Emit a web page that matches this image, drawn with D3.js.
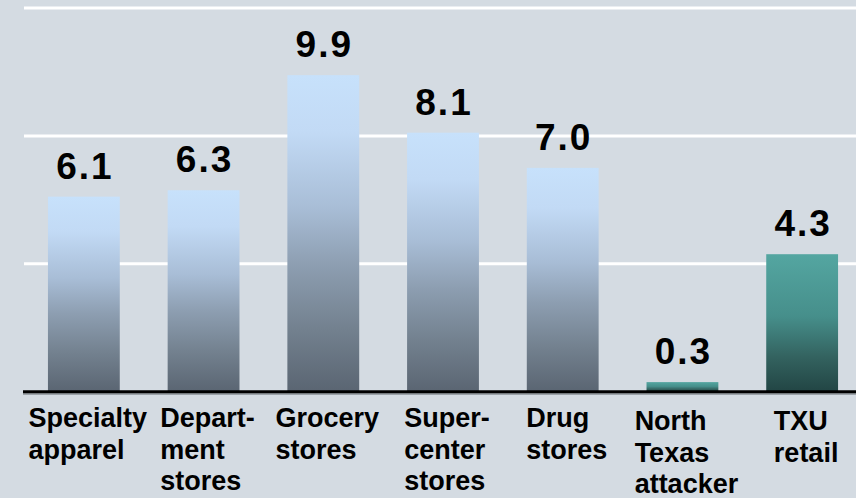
<!DOCTYPE html>
<html>
<head>
<meta charset="utf-8">
<script src="https://cdn.jsdelivr.net/npm/d3@7"></script>
<style>
  html, body { margin: 0; padding: 0; background: #d4dbe2; }
  svg { display: block; }
  text { font-family: "Liberation Sans", Arial, Helvetica, sans-serif; font-weight: bold; fill: #000; }
</style>
</head>
<body>
<svg id="chart" width="856" height="498"></svg>
<script>
// Category labels (line breaks as drawn under each bar)
const categories = [
  "Specialty\napparel",
  "Depart-\nment\nstores",
  "Grocery\nstores",
  "Super-\ncenter\nstores",
  "Drug\nstores",
  "North\nTexas\nattacker",
  "TXU\nretail"
];
// Value for each category
const values = [6.1, 6.3, 9.9, 8.1, 7.0, 0.3, 4.3];
// Which colour group each bar belongs to
const groups = ["benchmark", "benchmark", "benchmark", "benchmark", "benchmark", "txu", "txu"];
// Gridline values
const gridTicks = [4, 8, 12];

const W = 856, H = 498;
const svg = d3.select("#chart");

const x = d3.scaleBand()
  .domain(categories)
  .range([24, 862])
  .paddingInner(0.4)
  .paddingOuter(0.2);

const y = d3.scaleLinear()
  .domain([0, 12])
  .range([391.7, 8]);

// Vertical gradients, one per colour group
const defs = svg.append("defs");
const gradients = {
  benchmark: [
    [0, "#c7e1fb"], [0.18, "#c2daf5"], [0.42, "#a8bdd6"],
    [0.6, "#8d9eb1"], [0.8, "#73818f"], [1, "#5a6572"]
  ],
  txu: [
    [0, "#54a6a1"], [0.45, "#468f8b"], [0.75, "#33625f"], [1, "#224544"]
  ]
};
Object.entries(gradients).forEach(([id, stops]) => {
  const g = defs.append("linearGradient")
    .attr("id", "grad-" + id)
    .attr("x1", 0).attr("y1", 0).attr("x2", 0).attr("y2", 1);
  stops.forEach(([o, c]) => g.append("stop").attr("offset", o).attr("stop-color", c));
});

// Horizontal white gridlines
svg.append("g")
  .selectAll("line")
  .data(gridTicks)
  .join("line")
  .attr("x1", 24).attr("x2", W)
  .attr("y1", d => y(d)).attr("y2", d => y(d))
  .attr("stroke", "#ffffff")
  .attr("stroke-width", 3);

const data = categories.map((c, i) => ({ cat: c, value: values[i], group: groups[i] }));

// Bars
svg.append("g")
  .selectAll("rect")
  .data(data)
  .join("rect")
  .attr("x", d => x(d.cat))
  .attr("width", x.bandwidth())
  .attr("y", d => y(d.value))
  .attr("height", d => y(0) - y(d.value))
  .attr("fill", d => `url(#grad-${d.group})`);

// Value labels above the bars
svg.append("g")
  .selectAll("text")
  .data(data)
  .join("text")
  .attr("x", d => x(d.cat) + x.bandwidth() / 2 + 1)
  .attr("y", d => y(d.value) - 18)
  .attr("text-anchor", "middle")
  .style("font-size", "37px")
  .style("letter-spacing", "2px")
  .text(d => d.value.toFixed(1));

// Baseline
svg.append("line")
  .attr("x1", 23).attr("x2", W)
  .attr("y1", y(0) + 2.2).attr("y2", y(0) + 2.2)
  .attr("stroke", "#8a9096")
  .attr("stroke-width", 1.5);
svg.append("line")
  .attr("x1", 23).attr("x2", W)
  .attr("y1", y(0)).attr("y2", y(0))
  .attr("stroke", "#000000")
  .attr("stroke-width", 3);

// Category labels: lines left-aligned, block centred under its bar
const labelGroups = svg.append("g")
  .selectAll("text")
  .data(data)
  .join("text")
  .style("font-size", "27px")
  .attr("y", d => 427 + (d.group === "txu" ? 3 : 0));

labelGroups.each(function(d) {
  const t = d3.select(this);
  const lines = d.cat.split("\n");
  lines.forEach((ln, i) => {
    t.append("tspan").attr("dy", i === 0 ? 0 : 31.5).text(ln);
  });
  let maxW = 0;
  t.selectAll("tspan").each(function() {
    maxW = Math.max(maxW, this.getComputedTextLength());
  });
  const left = x(d.cat) + x.bandwidth() / 2 - maxW / 2 + 4;
  t.selectAll("tspan").attr("x", left);
});
</script>
</body>
</html>
